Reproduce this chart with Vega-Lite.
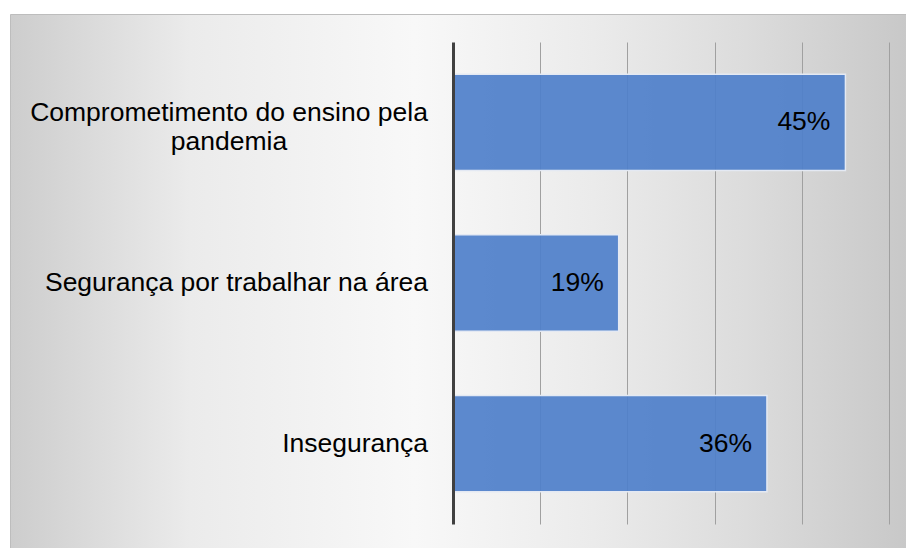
{
  "$schema": "https://vega.github.io/schema/vega-lite/v6.json",
  "width": 897,
  "height": 535,
  "autosize": {"type": "none"},
  "padding": {"left": 10, "top": 14, "right": 0, "bottom": 0},
  "background": "#ffffff",
  "config": {
    "font": "Liberation Sans",
    "view": {
      "fill": {
        "gradient": "linear",
        "x1": 0, "y1": 0.5, "x2": 1, "y2": 0.5,
        "stops": [
          {"offset": 0, "color": "#cdcdcd"},
          {"offset": 0.2, "color": "#ebebeb"},
          {"offset": 0.45, "color": "#f8f8f8"},
          {"offset": 0.65, "color": "#ebebeb"},
          {"offset": 0.82, "color": "#dcdcdc"},
          {"offset": 1, "color": "#c8c8c8"}
        ]
      },
      "stroke": "#bdbdbd",
      "strokeWidth": 1
    }
  },
  "data": {
    "values": [
      {"categoria": "Comprometimento do ensino pela\npandemia", "valor": 0.45},
      {"categoria": "Segurança por trabalhar na área", "valor": 0.19},
      {"categoria": "Insegurança", "valor": 0.36}
    ]
  },
  "resolve": {"axis": {"x": "independent"}},
  "encoding": {
    "y": {
      "field": "categoria",
      "type": "nominal",
      "sort": null,
      "scale": {"range": [28, 510], "paddingInner": 0.4, "paddingOuter": 0.2},
      "axis": null
    }
  },
  "layer": [
    {
      "mark": {"type": "bar", "fill": "#5080ca", "fillOpacity": 0.93, "stroke": "#e4e9f3", "strokeWidth": 1.5},
      "encoding": {
        "x": {
          "field": "valor",
          "type": "quantitative",
          "scale": {"domain": [-0.508, 0.5206], "nice": false, "zero": false},
          "axis": {
            "orient": "bottom",
            "values": [0.1, 0.2, 0.3, 0.4, 0.5],
            "labels": false,
            "domain": false,
            "grid": false,
            "title": null,
            "offset": -25,
            "tickSize": -482,
            "tickColor": "#a0a0a0",
            "tickWidth": 1
          }
        },
        "x2": {"datum": 0}
      }
    },
    {
      "transform": [{"filter": "indexof(datum.categoria, '\\n') < 0"}],
      "mark": {"type": "text", "align": "right", "baseline": "middle", "dx": -25, "fontSize": 26.5, "font": "Liberation Sans", "color": "#000000"},
      "encoding": {
        "x": {"datum": 0, "axis": null},
        "text": {"field": "categoria"}
      }
    },
    {
      "transform": [{"filter": "indexof(datum.categoria, '\\n') >= 0"}],
      "mark": {"type": "text", "align": "center", "baseline": "middle", "dx": -224, "dy": -9, "fontSize": 26.5, "lineBreak": "\n", "lineHeight": 29, "font": "Liberation Sans", "color": "#000000"},
      "encoding": {
        "x": {"datum": 0, "axis": null},
        "text": {"field": "categoria"}
      }
    },
    {
      "mark": {"type": "text", "align": "right", "baseline": "middle", "dx": -15, "fontSize": 26.5, "font": "Liberation Sans", "color": "#000000"},
      "encoding": {
        "x": {
          "field": "valor",
          "type": "quantitative",
          "axis": {
            "orient": "bottom",
            "values": [0],
            "labels": false,
            "domain": false,
            "grid": false,
            "title": null,
            "offset": -25,
            "tickSize": -482,
            "tickColor": "#404040",
            "tickWidth": 3,
            "zindex": 1
          }
        },
        "text": {"field": "valor", "type": "quantitative", "format": ".0%"}
      }
    }
  ]
}
